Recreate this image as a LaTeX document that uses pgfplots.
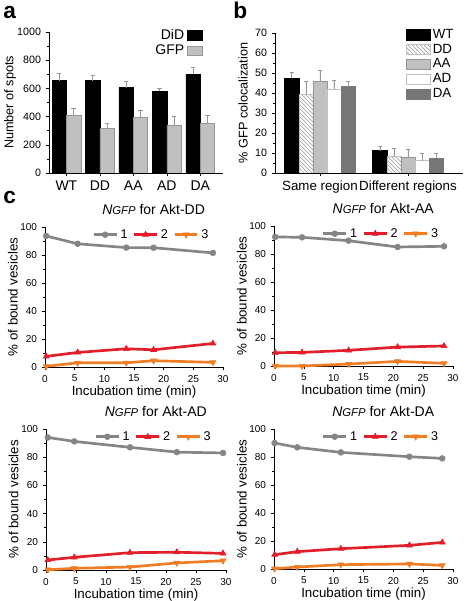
\documentclass[border=0pt]{standalone}
\usepackage{fontspec}
\setmainfont{Liberation Sans}
\usepackage{pgfplots}
\pgfplotsset{compat=1.18}
\usetikzlibrary{patterns}

\definecolor{cgray}{RGB}{133,133,133}
\definecolor{cred}{RGB}{226,30,42}
\definecolor{corange}{RGB}{240,125,35}
\definecolor{lgray}{RGB}{192,192,192}
\definecolor{dgray}{RGB}{118,118,118}
\definecolor{egray}{RGB}{150,150,150}

\pgfplotsset{
  base/.style={
    scale only axis, anchor=south west,
    /pgf/number format/assume math mode=true,
    /pgf/number format/1000 sep={},
    axis x line=bottom, axis y line=left, axis line style={-, line width=0.5pt},
    tick align=outside, major tick length=2.5pt, minor tick length=1.5pt,
    tick style={black, line width=0.4pt},
    tick label style={font=\fontsize{8}{9}\selectfont},
    label style={font=\fontsize{9.5}{10}\selectfont},
  },
  ebar/.style={error bars/.cd, y dir=plus, y explicit,
    error bar style={egray, line width=0.4pt},
    error mark options={egray, line width=0.4pt, mark size=1.6pt, rotate=90}},
  cstyle/.style={base,
    xmin=0, xmax=30, ymin=0, ymax=100, clip=false,
    xtick={0,5,...,30}, ytick={0,20,...,100}, minor y tick num=1,
    tick label style={font=\fontsize{7.5}{8}\selectfont},
    label style={font=\fontsize{10}{10}\selectfont},
    xlabel={Incubation time (min)}, ylabel={\% of bound vesicles},
    xlabel style={at={(axis description cs:0.5,-0.18)}, anchor=center},
    ylabel style={at={(axis description cs:-0.18,0.5)}, anchor=center},
    title style={at={(0.61,1)}, anchor=south, yshift=3pt, inner sep=0pt, font=\fontsize{10.5}{11}\selectfont},
    legend columns=3,
    legend style={draw=none, fill=none, at={(0.6,0.945)}, anchor=center, inner sep=0pt,
      font=\fontsize{9.5}{9}\selectfont,
      /tikz/every even column/.append style={column sep=2pt}},
  },
  l1/.style={cgray, line width=2pt, mark=*, mark size=2.2pt, mark options={line width=0.4pt}},
  l2/.style={cred, line width=2pt, mark=triangle*, mark size=2.6pt, mark options={line width=0.4pt}},
  l3/.style={corange, line width=2pt, mark=triangle*, mark size=2.6pt, mark options={line width=0.4pt, rotate=180}},
}
\newcommand{\ngfp}{\textit{N}{\fontsize{8.5}{8.5}\selectfont\textit{GFP}}}

\begin{document}
\begin{tikzpicture}
\path[use as bounding box] (0,0) rectangle (348.75pt,450.75pt);

% panel letters
\node[anchor=base west, inner sep=0pt, font=\bfseries\fontsize{17}{17}\selectfont] at (2.25pt,437pt) {a};
\node[anchor=base west, inner sep=0pt, font=\bfseries\fontsize{17}{17}\selectfont] at (174.75pt,437pt) {b};
\node[anchor=base west, inner sep=0pt, font=\bfseries\fontsize{17}{17}\selectfont] at (2.25pt,298pt) {c};

% ---------- panel a ----------
\begin{axis}[base, at={(36.75pt,321pt)}, width=130.5pt, height=105.75pt,
  xmin=-0.52, xmax=4.68, ymin=0, ymax=1000,
  ytick={0,200,...,1000}, minor y tick num=1,
  xtick={0,1,2,3,4}, xticklabels={WT,DD,AA,AD,DA},
  xticklabel style={font=\fontsize{10.5}{11}\selectfont},
  ylabel={Number of spots},
  ylabel style={at={(axis description cs:-0.224,0.5)}, anchor=center},
  legend plot pos=right,
  legend style={draw=none, fill=none, at={(0.885,1.04)}, anchor=north east, inner sep=0pt,
    font=\fontsize{10.5}{10}\selectfont, cells={anchor=east}, row sep=-1.5pt},
  legend image code/.code={\draw[#1] (0pt,-3.6pt) rectangle (11.5pt,3.6pt);},
]
\addplot[ybar, fill=black, draw=black, bar width=0.43, bar shift=0pt, ebar]
  table[x=x, y=y, y error=e] {
x y e
-0.215 655 50
0.785 655 40
1.785 605 43
2.785 579 21
3.785 702 45
};
\addplot[ybar, fill=lgray, draw=egray, bar width=0.43, bar shift=0pt, ebar]
  table[x=x, y=y, y error=e] {
x y e
0.215 409 47
1.215 317 33
2.215 397 45
3.215 338 62
4.215 350 61
};
\legend{DiD,GFP}
\end{axis}

% ---------- panel b ----------
\begin{axis}[base, at={(206.25pt,321pt)}, width=141pt, height=105pt,
  xmin=-0.51, xmax=1.625, ymin=0, ymax=70,
  ytick={0,10,...,70}, minor y tick num=1,
  xtick={0,1}, xticklabels={Same region,Different regions},
  xticklabel style={font=\fontsize{10}{11}\selectfont},
  ylabel={\% GFP colocalization},
  ylabel style={at={(axis description cs:-0.17,0.5)}, anchor=center},
  legend style={draw=none, fill=none, at={(0.697,1.05)}, anchor=north west, inner sep=0pt,
    font=\fontsize{10}{10}\selectfont, cells={anchor=west}, row sep=-1.2pt},
  legend image code/.code={\draw[#1] (0pt,-4pt) rectangle (17.5pt,4pt);},
]
\addplot[ybar, fill=black, draw=black, bar width=0.16, bar shift=0pt, ebar]
  table[x=x, y=y, y error=e] {
x y e
-0.32 47.3 3.0
0.68 11.2 2.0
};
\addplot[ybar, pattern=north west lines, pattern color=egray, draw=lgray, bar width=0.16, bar shift=0pt, ebar]
  table[x=x, y=y, y error=e] {
x y e
-0.16 39.5 6.2
0.84 8.2 4.3
};
\addplot[ybar, fill=lgray, draw=egray, bar width=0.16, bar shift=0pt, ebar]
  table[x=x, y=y, y error=e] {
x y e
0 46.0 5.2
1 8.0 4.0
};
\addplot[ybar, fill=white, draw=lgray, bar width=0.16, bar shift=0pt, ebar]
  table[x=x, y=y, y error=e] {
x y e
0.16 42.0 4.5
1.16 6.2 3.8
};
\addplot[ybar, fill=dgray, draw=dgray, bar width=0.16, bar shift=0pt, ebar]
  table[x=x, y=y, y error=e] {
x y e
0.32 43.2 2.8
1.32 7.5 2.5
};
\legend{WT,DD,AA,AD,DA}
\end{axis}

% ---------- panel c1 ----------
\begin{axis}[cstyle, at={(33.75pt,175.5pt)}, width=133.5pt, height=105pt,
  title={\ngfp{} for Akt-DD}]
\addplot[l1] coordinates {(0.2,93.6) (5.5,88.0) (13.7,85.3) (18.3,85.2) (28.3,81.5)};
\addplot[l2] coordinates {(0.2,7.6) (5.5,10.4) (13.7,13.0) (18.3,12.3) (28.3,16.8)};
\addplot[l3] coordinates {(0.2,0.5) (5.5,3.0) (13.7,3.0) (18.3,4.5) (28.3,3.3)};
\legend{1,2,3}
\end{axis}

% ---------- panel c2 ----------
\begin{axis}[cstyle, at={(205.5pt,176.25pt)}, width=134.25pt, height=105pt,
  title={\ngfp{} for Akt-AA}]
\addplot[l1] coordinates {(0.2,92.2) (4.7,91.9) (12.5,89.5) (20.7,85.0) (28.5,85.5)};
\addplot[l2] coordinates {(0.2,9.5) (4.7,9.7) (12.5,11.2) (20.7,13.5) (28.5,14.3)};
\addplot[l3] coordinates {(0.2,0.0) (4.7,0.0) (12.5,1.4) (20.7,3.3) (28.5,1.9)};
\legend{1,2,3}
\end{axis}

% ---------- panel c3 ----------
\begin{axis}[cstyle, at={(34.5pt,23.25pt)}, width=135pt, height=105.75pt,
  title={\ngfp{} for Akt-AD}]
\addplot[l1] coordinates {(0.3,94.0) (4.7,91.2) (14.0,87.0) (21.8,83.6) (29.5,83.0)};
\addplot[l2] coordinates {(0.3,7.1) (4.7,9.0) (14.0,12.3) (21.8,12.6) (29.5,11.8)};
\addplot[l3] coordinates {(0.3,0.2) (4.7,1.2) (14.0,2.1) (21.8,5.0) (29.5,6.6)};
\legend{1,2,3}
\end{axis}

% ---------- panel c4 ----------
\begin{axis}[cstyle, at={(205.5pt,24pt)}, width=134.25pt, height=105pt,
  title={\ngfp{} for Akt-DA}]
\addplot[l1] coordinates {(0.1,90.0) (3.9,86.9) (11.2,83.3) (22.7,80.2) (28.2,79.0)};
\addplot[l2] coordinates {(0.1,10.2) (3.9,12.4) (11.2,14.5) (22.7,16.9) (28.2,19.0)};
\addplot[l3] coordinates {(0.1,0.2) (3.9,1.4) (11.2,3.1) (22.7,3.6) (28.2,2.6)};
\legend{1,2,3}
\end{axis}
\end{tikzpicture}
\end{document}
